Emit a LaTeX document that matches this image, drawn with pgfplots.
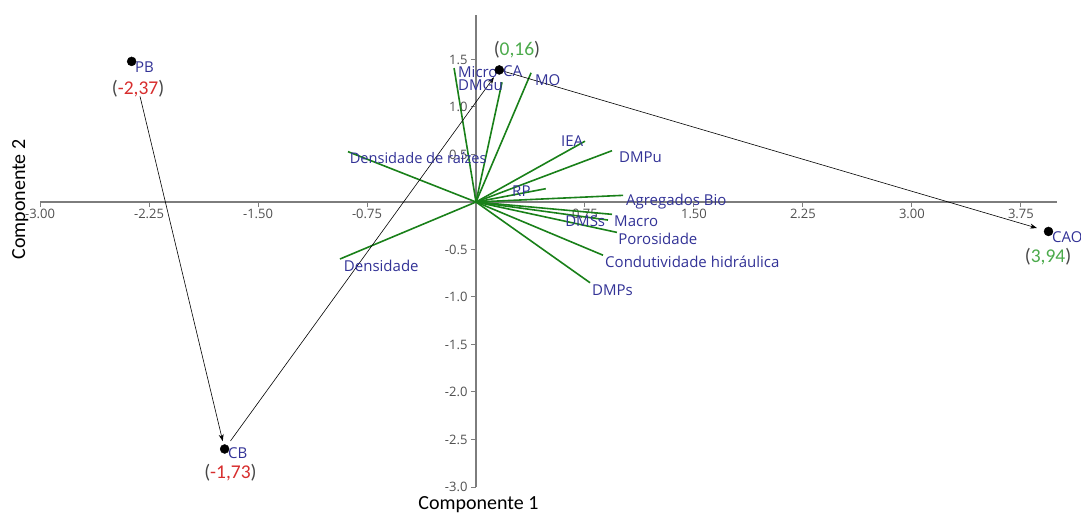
\documentclass[border=0pt]{standalone}
\usepackage{pgfplots}
\pgfplotsset{compat=1.18}
\usetikzlibrary{arrows.meta}
\usepackage{fontspec}
\setmainfont{Open Sans}
\newfontfamily\calibri{Carlito}
\definecolor{vec}{RGB}{25,128,25}
\definecolor{lab}{RGB}{50,50,150}
\definecolor{redv}{RGB}{215,45,45}
\definecolor{greenv}{RGB}{75,170,75}
\definecolor{axc}{RGB}{125,125,125}
\definecolor{tickc}{RGB}{80,80,80}
\definecolor{parc}{RGB}{70,70,70}
\newcommand{\tk}[1]{\mbox{\fontsize{13}{15}\selectfont\color{tickc}#1}}
\begin{document}
\begin{tikzpicture}
\useasboundingbox (-476pt,-319pt) rectangle (605pt,202pt);
\begin{axis}[
  at={(0,0)}, anchor=origin,
  x=145.3pt, y=95pt,
  xmin=-3, xmax=4.0, ymin=-3, ymax=1.97,
  axis lines=middle,
  axis line style={axc, line width=1.3pt, -},
  clip=false,
  /pgf/number format/assume math mode=true,
  xtick={-3,-2.25,-1.5,-0.75,0.75,1.5,2.25,3,3.75},
  xticklabels={\tk{-3.00},\tk{-2.25},\tk{-1.50},\tk{-0.75},\tk{0.75},\tk{1.50},\tk{2.25},\tk{3.00},\tk{3.75}},
  ytick={-3,-2.5,-2,-1.5,-1,-0.5,0.5,1,1.5},
  yticklabels={\tk{-3.0},\tk{-2.5},\tk{-2.0},\tk{-1.5},\tk{-1.0},\tk{-0.5},\tk{0.5},\tk{1.0},\tk{1.5}},
  tick style={axc, line width=1pt},
  major tick length=5pt,
  tick align=outside,
  tick label style={text=tickc},
  xticklabel style={yshift=1pt},
  xlabel={Componente 1}, ylabel={Componente 2},
  xlabel style={at={(axis description cs:0.431,0)}, anchor=north, yshift=-6pt, font=\calibri\fontsize{20}{24}\selectfont},
  ylabel style={at={(axis description cs:-0.0196,0.609)}, anchor=center, rotate=90, font=\calibri\fontsize{20}{24}\selectfont},
]
% loading vectors
\addplot[vec, line width=1.6pt] coordinates {(0,0) (-0.151,1.41)};
\addplot[vec, line width=1.6pt] coordinates {(0,0) (0.179,1.26)};
\addplot[vec, line width=1.6pt] coordinates {(0,0) (0.379,1.36)};
\addplot[vec, line width=1.6pt] coordinates {(0,0) (0.750,0.64)};
\addplot[vec, line width=1.6pt] coordinates {(0,0) (0.936,0.54)};
\addplot[vec, line width=1.6pt] coordinates {(0,0) (0.480,0.14)};
\addplot[vec, line width=1.6pt] coordinates {(0,0) (1.012,0.07)};
\addplot[vec, line width=1.6pt] coordinates {(0,0) (0.936,-0.13)};
\addplot[vec, line width=1.6pt] coordinates {(0,0) (0.908,-0.19)};
\addplot[vec, line width=1.6pt] coordinates {(0,0) (0.970,-0.32)};
\addplot[vec, line width=1.6pt] coordinates {(0,0) (0.874,-0.56)};
\addplot[vec, line width=1.6pt] coordinates {(0,0) (0.785,-0.85)};
\addplot[vec, line width=1.6pt] coordinates {(0,0) (-0.936,-0.60)};
\addplot[vec, line width=1.6pt] coordinates {(0,0) (-0.881,0.53)};
% trajectory arrows
\addplot[black, line width=0.6pt, -{Stealth[length=7pt,width=5pt]}, shorten <=36pt, shorten >=8pt] coordinates {(-2.37,1.48) (-1.73,-2.60)};
\addplot[black, line width=0.6pt, -{Stealth[length=7pt,width=5pt]}, shorten <=10pt, shorten >=9pt] coordinates {(-1.73,-2.60) (0.16,1.39)};
\addplot[black, line width=0.6pt, -{Stealth[length=7pt,width=5pt]}, shorten <=2pt, shorten >=12pt] coordinates {(0.16,1.39) (3.94,-0.31)};
% sample points
\addplot[only marks, mark=*, mark size=4.5pt, black] coordinates {(-2.37,1.48) (0.16,1.39) (3.94,-0.31) (-1.73,-2.60)};
% variable labels
\begin{scope}[every node/.style={text=lab, inner sep=0pt, anchor=west, font=\fontsize{15}{18}\selectfont}]
\node at (axis cs:-0.124,1.37) {Micro};
\node at (axis cs:-0.124,1.23) {DMGu};
\node at (axis cs:0.186,1.38) {CA};
\node at (axis cs:0.406,1.28) {MO};
\node at (axis cs:0.585,0.64) {IEA};
\node at (axis cs:0.984,0.47) {DMPu};
\node[font=\fontsize{14.6}{18}\selectfont] at (axis cs:-0.87,0.46) {Densidade de raízes};
\node at (axis cs:0.248,0.116) {RP};
\node at (axis cs:1.032,0.0) {Agregados Bio};
\node at (axis cs:0.613,-0.2) {DMSs};
\node at (axis cs:0.950,-0.2) {Macro};
\node at (axis cs:0.978,-0.39) {Porosidade};
\node at (axis cs:0.888,-0.63) {Condutividade hidráulica};
\node at (axis cs:0.798,-0.93) {DMPs};
\node at (axis cs:-0.91,-0.67) {Densidade};
\node at (axis cs:-2.347,1.42) {PB};
\node at (axis cs:-1.707,-2.64) {CB};
\node at (axis cs:3.964,-0.37) {CAO};
\end{scope}
% score values
\begin{scope}[every node/.style={text=parc, inner sep=0pt, anchor=center, font=\calibri\fontsize{19.5}{23}\selectfont}]
\node at (axis cs:-2.326,1.19) {(\textcolor{redv}{-2,37})};
\node at (axis cs:0.282,1.60) {(\textcolor{greenv}{0,16})};
\node at (axis cs:3.937,-0.58) {(\textcolor{greenv}{3,94})};
\node at (axis cs:-1.690,-2.845) {(\textcolor{redv}{-1,73})};
\end{scope}
\end{axis}
\end{tikzpicture}
\end{document}
